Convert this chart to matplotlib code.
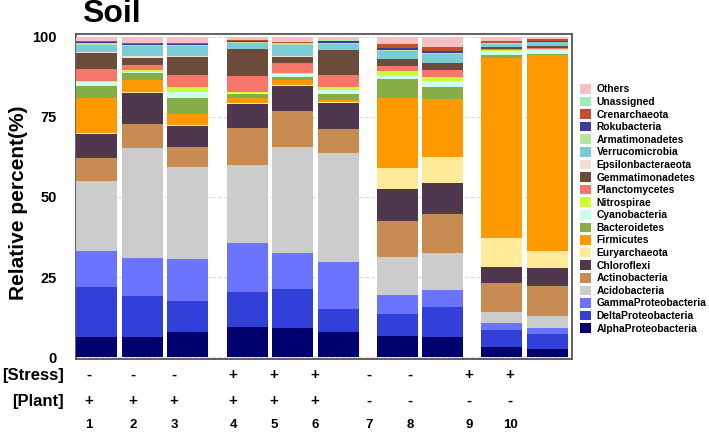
import matplotlib
matplotlib.use("Agg")
import matplotlib.pyplot as plt
from matplotlib.patches import Patch
import numpy as np

plt.rcParams['font.family'] = ['Liberation Sans', 'DejaVu Sans']
plt.rcParams['font.weight'] = 'bold'

samples = ["1", "2", "3", "4", "5", "6", "7", "8", "9", "10"]
stress = ["-", "-", "-", "+", "+", "+", "-", "-", "+", "+"]
plant = ["+", "+", "+", "+", "+", "+", "-", "-", "-", "-"]
groups = [3, 3, 2, 2]

# bottom -> top stacking order
taxa = ["AlphaProteobacteria", "DeltaProteobacteria", "GammaProteobacteria",
        "Acidobacteria", "Actinobacteria", "Chloroflexi", "Euryarchaeota",
        "Firmicutes", "Bacteroidetes", "Cyanobacteria", "Nitrospirae",
        "Planctomycetes", "Gemmatimonadetes", "Epsilonbacteraeota",
        "Verrucomicrobia", "Armatimonadetes", "Rokubacteria", "Crenarchaeota",
        "Unassigned", "Others"]

colors = ["#00006E", "#3040D8", "#6B74FF", "#CCCCCC", "#C88B52", "#4F384D",
          "#FFEB99", "#FF9900", "#86AD47", "#CCFFEE", "#CCFF33", "#F7776B",
          "#6B4C3B", "#F2DFD3", "#7ACCD6", "#B5E3A0", "#3C3CA0", "#C0502E",
          "#9AF0B4", "#F4C2C2"]

alpha = [6.3, 6.3, 7.9, 9.3, 9.0, 7.9, 6.6, 6.3, 3.0, 2.4]
delta = [15.7, 12.9, 9.7, 10.9, 12.2, 7.1, 7.0, 9.2, 5.6, 4.8]
gamma = [11.1, 11.8, 13.1, 15.3, 11.4, 14.8, 5.8, 5.6, 1.9, 1.8]
acido = [22.0, 34.2, 28.8, 24.5, 32.9, 33.8, 11.9, 11.5, 3.5, 3.9]
actino = [7.2, 7.6, 6.0, 11.5, 11.5, 7.6, 11.2, 12.0, 9.2, 9.3]
chloro = [7.5, 9.6, 6.7, 7.5, 7.8, 8.1, 9.9, 9.9, 5.0, 5.5]
eury = [0.3, 0.4, 0.3, 0.3, 0.3, 0.3, 6.6, 8.1, 8.9, 5.4]
firm = [10.7, 3.8, 3.3, 1.6, 1.5, 0.6, 21.8, 18.0, 56.4, 61.1]
bact = [4.0, 2.1, 5.0, 1.4, 0.8, 2.1, 6.1, 3.9, 0.9, 0.5]
cyano = [1.2, 0.3, 2.1, 0.3, 0.9, 1.0, 1.0, 1.8, 1.2, 1.2]
nitro = [0.3, 0.7, 1.3, 0.3, 0.5, 0.9, 1.3, 1.1, 0.2, 0.2]
plancto = [3.7, 1.5, 3.9, 4.8, 3.0, 3.8, 1.8, 2.3, 0.5, 0.4]
gemma = [5.1, 2.3, 5.7, 8.5, 2.0, 7.8, 2.1, 2.1, 0.4, 0.5]
epsilon = [0.1, 0.4, 0.1, 0.1, 0.1, 0.1, 0.1, 0.1, 0.1, 0.1]
verruco = [2.4, 3.1, 3.2, 1.9, 3.7, 1.8, 2.3, 2.8, 1.0, 1.2]
armati = [0.5, 0.4, 0.5, 0.3, 0.4, 0.5, 0.4, 0.4, 0.2, 0.2]
roku = [0.2, 0.4, 0.3, 0.3, 0.1, 0.4, 0.6, 0.5, 0.1, 0.2]
cren = [0.4, 0.3, 0.2, 0.3, 0.3, 0.2, 1.2, 1.2, 0.6, 0.5]
unassigned = [0.1, 0.1, 0.1, 0.1, 0.1, 0.1, 0.1, 0.1, 0.1, 0.1]
others = [1.2, 1.8, 1.8, 0.8, 1.5, 1.1, 2.2, 3.1, 1.2, 0.7]

series = [alpha, delta, gamma, acido, actino, chloro, eury, firm, bact, cyano,
          nitro, plancto, gemma, epsilon, verruco, armati, roku, cren,
          unassigned, others]

W, H = 709, 436
fig = plt.figure(figsize=(W / 100, H / 100), dpi=100)
ax = fig.add_axes([76 / W, (H - 359) / H, (572 - 76) / W, (359 - 34) / H])

# x positions with extra gaps between groups
gap = 0.3
xs = []
pos = 0.0
for gi, n in enumerate(groups):
    for k in range(n):
        xs.append(pos)
        pos += 1
    pos += gap
xs = np.array(xs)

bottom = np.zeros(len(samples))
for name, vals, c in zip(taxa, series, colors):
    v = np.array(vals)
    ax.bar(xs, v, bottom=bottom, width=0.9, color=c, edgecolor='none',
           zorder=3, label=name)
    bottom += v

ax.set_xlim(-0.46, 10.44)
ax.set_ylim(-0.6, 100.9)
ax.set_yticks([0, 25, 50, 75, 100])
ax.set_yticklabels(["0", "25", "50", "75", "100"], fontsize=10.5,
                   fontweight='bold')
ax.set_xticks(xs)
ax.set_xticklabels([])
ax.tick_params(axis='both', length=0, pad=14)
ax.grid(True, color='#DDDDDD', linestyle='--', linewidth=0.8, zorder=0)
for s in ax.spines.values():
    s.set_color('#555555')
    s.set_linewidth(1.3)

ax.set_ylabel("Relative percent(%)", fontsize=15, fontweight='bold')
ax.yaxis.set_label_coords((28 - 76) / (572 - 76), 0.48)

fig.text(82 / W, 1 - 14 / H, "Soil", fontsize=23, fontweight='bold',
         ha='left', va='center')

# condition rows
label_x = [89, 133, 174, 233, 274, 315, 369, 410, 469, 510]
fig.text(64 / W, 1 - 375 / H, "[Stress]", fontsize=12, fontweight='bold',
         ha='right', va='center')
fig.text(64 / W, 1 - 401 / H, "[Plant]", fontsize=12, fontweight='bold',
         ha='right', va='center')
for lx, st, pl, sm in zip(label_x, stress, plant, samples):
    fig.text(lx / W, 1 - 375 / H, st, fontsize=11, fontweight='bold',
             ha='center', va='center')
    fig.text(lx / W, 1 - 401 / H, pl, fontsize=11, fontweight='bold',
             ha='center', va='center')
    fig.text(lx / W, 1 - 425 / H, sm, fontsize=9.5, fontweight='bold',
             ha='center', va='center')

handles = [Patch(facecolor=c, edgecolor='none', label=n)
           for n, c in zip(taxa, colors)][::-1]
leg = fig.legend(handles=handles, loc='upper left',
                 bbox_to_anchor=(580 / W, 1 - 84 / H), frameon=False,
                 prop={'size': 7.4, 'weight': 'bold'},
                 handlelength=1.07, handleheight=1.07, handletextpad=0.55,
                 labelspacing=0.22, borderaxespad=0, borderpad=0)

fig.savefig("out.png", dpi=100)
